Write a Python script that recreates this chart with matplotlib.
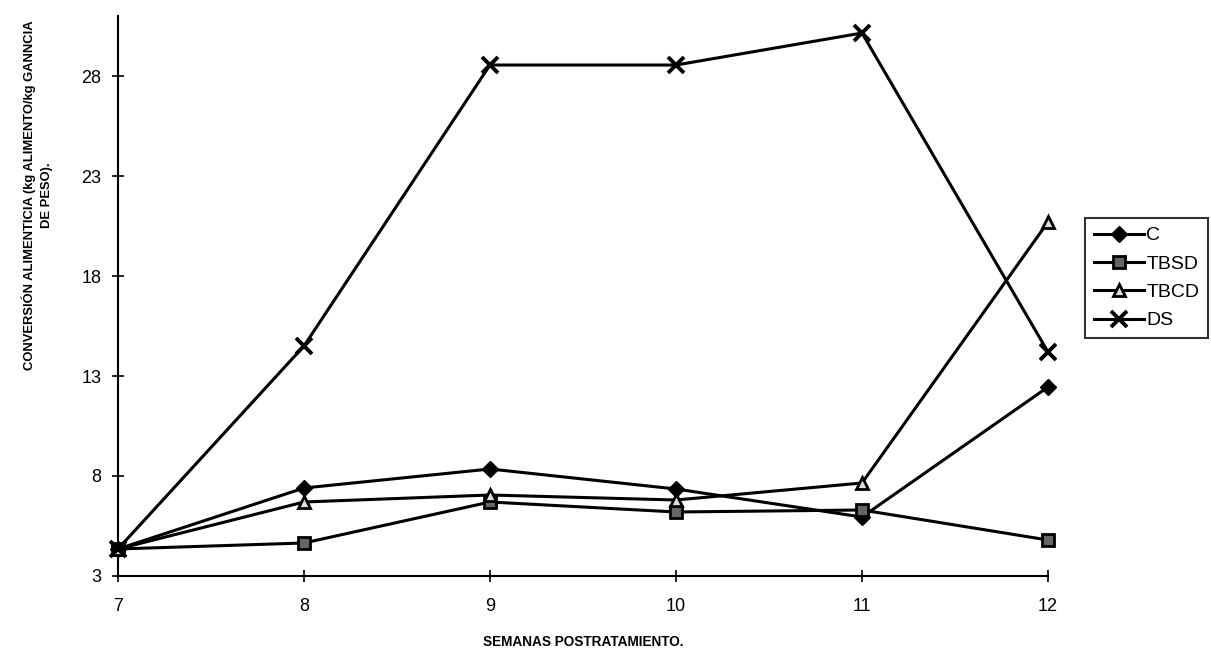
import matplotlib
matplotlib.use("Agg")
import matplotlib.pyplot as plt

weeks = [7, 8, 9, 10, 11, 12]
c_vals = [4.35, 7.4, 8.35, 7.35, 5.95, 12.45]
tbsd_vals = [4.35, 4.65, 6.7, 6.2, 6.3, 4.8]
tbcd_vals = [4.35, 6.7, 7.05, 6.8, 7.65, 20.7]
ds_vals = [4.35, 14.5, 28.55, 28.55, 30.15, 14.2]
yticks = [3, 8, 13, 18, 23, 28]

plt.rcParams['font.family'] = ['Liberation Sans', 'DejaVu Sans']

fig = plt.figure(figsize=(12.11, 6.57), dpi=100)
ax = fig.add_axes([0.0974, 0.1233, 0.768, 0.8523])

lw = 2.2
ax.plot(weeks, c_vals, color='black', lw=lw, marker='D', ms=8, mfc='black', mec='black',
        label='C', clip_on=False, zorder=3)
ax.plot(weeks, tbsd_vals, color='black', lw=lw, marker='s', ms=8, mfc='#666666', mec='black',
        mew=2, label='TBSD', clip_on=False, zorder=3)
ax.plot(weeks, tbcd_vals, color='black', lw=lw, marker='^', ms=8, mfc='#dddddd', mec='black',
        mew=2, label='TBCD', clip_on=False, zorder=3)
ax.plot(weeks, ds_vals, color='black', lw=lw, marker='x', ms=11, mec='black', mew=2.8,
        label='DS', clip_on=False, zorder=3)

ax.set_xlim(7, 12)
ax.set_ylim(3, 31)
ax.set_xticks(weeks)
ax.set_yticks(yticks)
ax.tick_params(direction='inout', length=8, width=1.2, labelsize=13)
ax.tick_params(axis='x', pad=12)
ax.tick_params(axis='y', pad=8)
for s in ['top', 'right']:
    ax.spines[s].set_visible(False)
for s in ['left', 'bottom']:
    ax.spines[s].set_linewidth(1.5)

ax.set_xlabel('SEMANAS POSTRATAMIENTO.', fontsize=9.8, fontweight='bold')
ax.xaxis.set_label_coords(0.5, -0.105)
ax.set_ylabel('CONVERSIÓN ALIMENTICIA (kg ALIMENTO/kg GANNCIA\nDE PESO).', fontsize=9.4,
              fontweight='bold', linespacing=1.5)
ax.yaxis.set_label_coords(-0.07, 0.68)

leg = fig.legend(loc='upper left', bbox_to_anchor=(0.896, 0.668), fontsize=14,
                 frameon=True, fancybox=False, edgecolor='black', handlelength=2.6,
                 handletextpad=0.1, borderpad=0.45, labelspacing=0.55, borderaxespad=0)
leg.get_frame().set_linewidth(1.5)

fig.savefig('out.png', dpi=100)
